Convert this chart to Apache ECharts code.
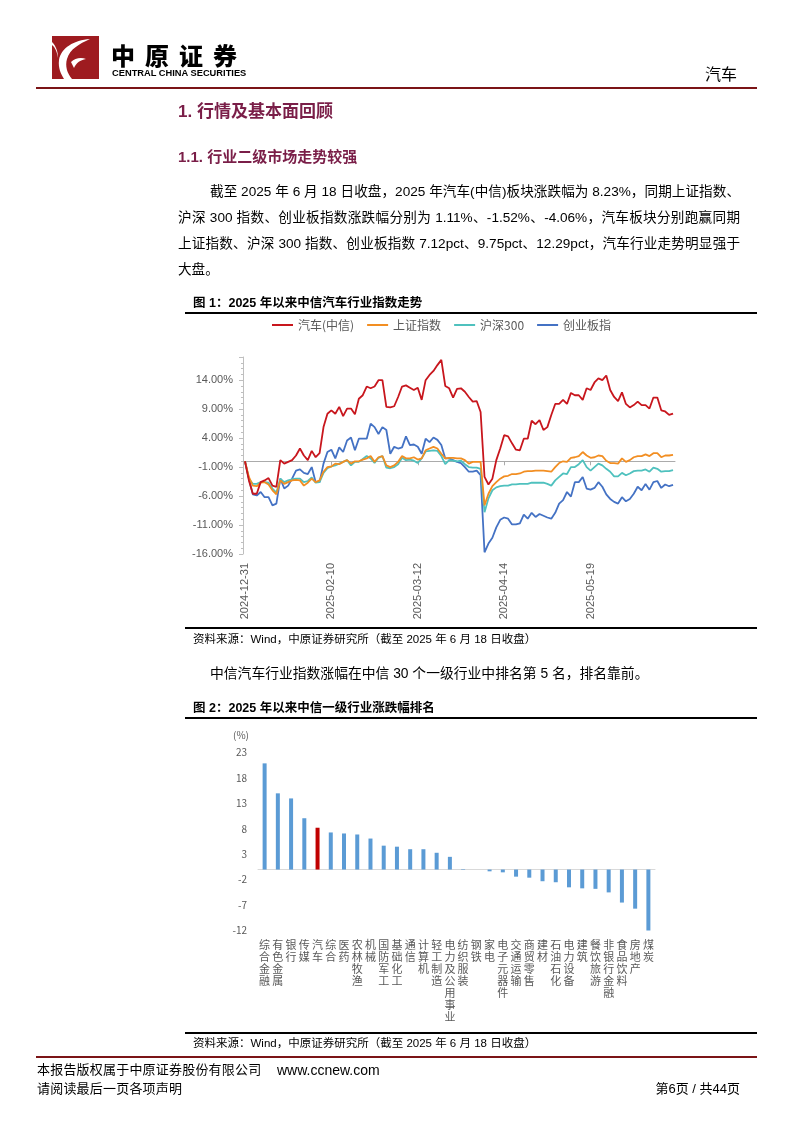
<!DOCTYPE html>
<html><head><meta charset="utf-8">
<script src="https://cdn.jsdelivr.net/npm/echarts@6/dist/echarts.min.js"></script>
<style>
html,body{margin:0;padding:0;background:#fff;}
#page{position:relative;width:794px;height:1123px;overflow:hidden;font-family:"Liberation Sans","Noto Sans CJK SC",sans-serif;color:#000;}
#chart{position:absolute;left:0;top:0;width:794px;height:1123px;}
.t{position:absolute;white-space:nowrap;line-height:1;z-index:2;}
.rule{position:absolute;z-index:2;}
.j{text-align:justify;text-align-last:justify;white-space:nowrap;}
.h{color:#7A1E48;font-weight:bold;}
.fig{font-size:12.5px;font-weight:bold;}
.src{font-size:11.5px;}
</style>
</head>
<body>
<div id="page">
  <div id="chart"></div>
  <svg class="rule" style="left:52px;top:36px" width="47" height="43" viewBox="0 0 47 43">
    <rect width="47" height="43" fill="#9E1B20"/>
    <path d="M38 3 C22 4 9 12 7 24 C6 32 9 38 12 43 L20 43 C15 37 13 30 15 23 C18 13 27 8 38 3 Z" fill="#fff"/>
    <path d="M0 6 C4 10 6 16 6 22 C5 16 3 11 0 9 Z" fill="#fff"/>
    <path d="M19 26 C23 22 29 21 34 23 C28 24 24 27 22 32 Z" fill="#fff"/>
  </svg>
  <div class="t" style="left:111px;top:43px;font-size:24px;font-weight:900;letter-spacing:10px;font-family:'Noto Sans CJK SC';">中原证券</div>
  <div class="t" style="left:112px;top:69px;font-size:9.3px;font-weight:bold;letter-spacing:0px;">CENTRAL CHINA SECURITIES</div>
  <div class="t" style="left:705px;top:65px;font-size:16px;font-family:'Noto Sans CJK SC';">汽车</div>
  <div class="rule" style="left:36px;top:87px;width:721px;height:2px;background:#7B1416;"></div>

  <div class="t h" style="left:178px;top:103px;font-size:17px;">1. 行情及基本面回顾</div>
  <div class="t h" style="left:178px;top:149px;font-size:15px;">1.1. 行业二级市场走势较强</div>

  <div class="t j" style="left:210px;top:185px;width:530px;font-size:13.6px;">截至 2025 年 6 月 18 日收盘，2025 年汽车(中信)板块涨跌幅为 8.23%，同期上证指数、</div>
  <div class="t j" style="left:178px;top:211px;width:562px;font-size:13.6px;">沪深 300 指数、创业板指数涨跌幅分别为 1.11%、-1.52%、-4.06%，汽车板块分别跑赢同期</div>
  <div class="t j" style="left:178px;top:237px;width:562px;font-size:13.6px;">上证指数、沪深 300 指数、创业板指数 7.12pct、9.75pct、12.29pct，汽车行业走势明显强于</div>
  <div class="t" style="left:178px;top:263px;font-size:13.6px;">大盘。</div>

  <div class="t fig" style="left:193px;top:297px;">图 1：2025 年以来中信汽车行业指数走势</div>
  <div class="rule" style="left:185px;top:312px;width:572px;height:2px;background:#000;"></div>
  <div class="rule" style="left:185px;top:627px;width:572px;height:2px;background:#000;"></div>
  <div class="t src" style="left:193px;top:634px;">资料来源：Wind，中原证券研究所（截至 2025 年 6 月 18 日收盘）</div>

  <div class="t" style="left:210px;top:667px;font-size:13.8px;">中信汽车行业指数涨幅在中信 30 个一级行业中排名第 5 名，排名靠前。</div>

  <div class="t fig" style="left:193px;top:702px;">图 2：2025 年以来中信一级行业涨跌幅排名</div>
  <div class="rule" style="left:185px;top:717px;width:572px;height:2px;background:#000;"></div>
  <div class="t" style="left:233px;top:730px;font-size:10px;color:#595959;font-family:'Noto Sans CJK SC';">(%)</div>
  <div class="rule" style="left:185px;top:1032px;width:572px;height:2px;background:#000;"></div>
  <div class="t src" style="left:193px;top:1038px;">资料来源：Wind，中原证券研究所（截至 2025 年 6 月 18 日收盘）</div>

  <div class="rule" style="left:36px;top:1056px;width:721px;height:2px;background:#7B1416;"></div>
  <div class="t" style="left:37px;top:1063px;font-size:13px;letter-spacing:0.2px;">本报告版权属于中原证券股份有限公司</div>
  <div class="t" style="left:277px;top:1063px;font-size:14px;">www.ccnew.com</div>
  <div class="t" style="left:37px;top:1082px;font-size:13px;letter-spacing:0.2px;">请阅读最后一页各项声明</div>
  <div class="t" style="left:640px;top:1082px;width:100px;text-align:right;font-size:13px;">第6页 / 共44页</div>
</div>
<script>
const dates = [
'2024-12-31',
'2025-01-02','2025-01-03','2025-01-06','2025-01-07','2025-01-08','2025-01-09','2025-01-10','2025-01-13','2025-01-14','2025-01-15','2025-01-16','2025-01-17','2025-01-20','2025-01-21','2025-01-22','2025-01-23','2025-01-24','2025-01-27',
'2025-02-05','2025-02-06','2025-02-07','2025-02-10','2025-02-11','2025-02-12','2025-02-13','2025-02-14','2025-02-17','2025-02-18','2025-02-19','2025-02-20','2025-02-21','2025-02-24','2025-02-25','2025-02-26','2025-02-27','2025-02-28',
'2025-03-03','2025-03-04','2025-03-05','2025-03-06','2025-03-07','2025-03-10','2025-03-11','2025-03-12','2025-03-13','2025-03-14','2025-03-17','2025-03-18','2025-03-19','2025-03-20','2025-03-21','2025-03-24','2025-03-25','2025-03-26','2025-03-27','2025-03-28','2025-03-31',
'2025-04-01','2025-04-02','2025-04-03','2025-04-07','2025-04-08','2025-04-09','2025-04-10','2025-04-11','2025-04-14','2025-04-15','2025-04-16','2025-04-17','2025-04-18','2025-04-21','2025-04-22','2025-04-23','2025-04-24','2025-04-25','2025-04-28','2025-04-29','2025-04-30',
'2025-05-06','2025-05-07','2025-05-08','2025-05-09','2025-05-12','2025-05-13','2025-05-14','2025-05-15','2025-05-16','2025-05-19','2025-05-20','2025-05-21','2025-05-22','2025-05-23','2025-05-26','2025-05-27','2025-05-28','2025-05-29','2025-05-30',
'2025-06-03','2025-06-04','2025-06-05','2025-06-06','2025-06-09','2025-06-10','2025-06-11','2025-06-12','2025-06-13','2025-06-16','2025-06-17','2025-06-18'
];
const seriesNames = ['汽车(中信)','上证指数','沪深300','创业板指'];
const autoCiticValues = [
0,-3.3,-5.6,-5.6,-3.6,-3.3,-2.9,-4.2,-4.4,0.2,
-0.4,-0.1,0.2,1.0,2.2,1.0,0.2,1.8,0.7,1.4,
5.9,8.2,8.8,8.2,9.4,7.8,9.1,9.1,8.1,10.8,
11.4,12.9,12.6,12.9,14.0,14.0,9.4,9.3,9.5,11.1,
12.9,13.1,12.7,12.3,12.7,10.6,14.0,14.9,15.6,16.6,
17.5,13.0,12.6,11.0,12.5,12.6,12.0,11.1,10.3,10.4,
8.5,-2.7,-4.0,-3.0,0.2,2.2,4.5,4.3,3.1,2.0,
1.9,3.9,3.9,7.0,6.4,7.1,5.4,5.9,8.0,9.9,
9.9,10.6,9.9,11.8,11.4,11.4,10.6,12.6,12.3,13.6,
14.3,14.0,14.8,12.3,11.1,10.4,11.9,9.9,9.3,9.7,
10.3,9.7,9.7,9.1,11.0,11.0,8.8,8.6,8.0,8.23];
const shanghaiValues = [
0,-2.7,-4.2,-4.3,-3.7,-3.6,-4.0,-5.0,-5.7,-3.3,
-3.9,-3.6,-3.3,-3.2,-3.3,-4.2,-3.7,-3.0,-3.6,-3.3,
-1.8,-1.0,-0.9,-0.4,-0.5,-0.1,0.2,-0.4,0,0,
0.3,0.5,0.9,-0.1,0.7,0.9,-0.7,-1.0,-0.7,-0.1,
0.9,0.5,0.5,0.7,0.3,0.5,1.9,2.2,2.5,2.2,
1.3,0.5,0.6,0.6,0.5,0.5,0.2,-0.4,-0.1,-0.1,
-0.1,-7.6,-5.6,-4.3,-3.6,-3.0,-2.6,-2.5,-2.2,-2.2,
-2.1,-1.8,-1.7,-1.7,-1.6,-1.6,-1.6,-1.7,-1.8,-1.0,
-0.3,0,-0.1,0.6,0.7,0.9,1.6,1.0,0.6,0.7,
1.0,0.9,0.1,-0.3,-0.3,-0.4,0.5,-0.1,0.2,0.7,
0.9,0.9,1.2,0.9,1.4,1.4,0.7,1.0,1.0,1.11];
const hs300Values = [
0,-3.0,-3.9,-3.9,-3.6,-3.6,-3.7,-4.7,-5.4,-3.0,
-3.6,-3.3,-3.1,-3.0,-3.0,-3.6,-3.4,-2.8,-3.7,-3.6,
-2.0,-1.2,-0.9,-0.7,-0.4,-0.1,0.2,-0.7,-0.1,-0.1,
0.4,0.9,0.5,-0.3,0.6,0.9,-1.1,-1.2,-1.0,-0.5,
0.6,0.2,0.3,0.1,-0.3,0.5,1.7,1.8,1.9,1.8,
0.9,-0.5,0.2,0.1,0,0.1,-0.5,-1.0,-1.1,-1.1,
-1.3,-8.8,-6.4,-5.0,-4.5,-4.3,-4.2,-4.2,-4.0,-4.0,
-3.9,-3.9,-3.9,-3.7,-3.7,-3.7,-3.7,-3.9,-4.2,-3.3,
-2.7,-2.1,-2.2,-1.0,-1.0,-0.5,0.2,-1.0,-1.6,-1.0,
-0.4,-0.7,-1.3,-1.8,-2.6,-2.6,-2.0,-2.4,-2.1,-1.7,
-1.6,-1.6,-1.4,-1.8,-1.1,-1.3,-1.8,-1.7,-1.7,-1.52];
const chinextValues = [
0,-3.0,-5.7,-5.9,-5.3,-6.2,-6.2,-7.6,-7.3,-3.0,
-4.7,-4.2,-3.0,-1.6,-1.4,-2.0,-2.2,-1.0,-3.6,-3.6,
-0.4,1.6,2.0,0.5,2.4,1.6,3.6,4.1,1.9,3.9,
3.9,3.9,6.5,5.9,4.7,5.9,5.4,1.3,2.5,2.2,
2.4,4.3,2.8,2.9,2.5,1.3,3.9,3.3,4.1,3.7,
2.8,0.5,0.5,0.2,-0.1,-0.3,-1.0,-1.8,-1.8,-1.6,
-2.4,-15.7,-14.2,-13.2,-11.4,-10.1,-9.7,-9.9,-10.9,-10.9,
-10.7,-9.2,-9.9,-8.9,-9.6,-9.1,-9.4,-9.7,-9.9,-8.9,
-7.3,-6.7,-5.3,-6.1,-3.6,-3.6,-2.7,-4.7,-4.9,-4.6,
-3.6,-4.4,-5.7,-6.5,-7.0,-7.3,-6.2,-6.9,-6.5,-5.6,
-4.4,-5.0,-3.9,-4.9,-3.6,-3.4,-4.6,-4.0,-4.3,-4.06];
const lineColors = ['#C8161D','#F28E22','#4FC1BE','#4472C4'];

const industries = ['综合金融','有色金属','银行','传媒','汽车','综合','医药','农林牧渔','机械','国防军工','基础化工','通信','计算机','轻工制造','电力及公用事业','纺织服装','钢铁','家电','电子元器件','交通运输','商贸零售','建材','石油石化','电力设备','建筑','餐饮旅游','非银行金融','食品饮料','房地产','煤炭'];
const industryChanges = [20.9,15.0,14.0,10.1,8.23,7.3,7.1,6.9,6.1,4.7,4.5,4.0,4.0,3.3,2.5,0.1,0.0,-0.35,-0.55,-1.4,-1.6,-2.3,-2.5,-3.5,-3.7,-3.8,-4.5,-6.5,-7.7,-12.1];
const highlightIndustry = '汽车';

const lineData = [autoCiticValues, shanghaiValues, hs300Values, chinextValues];
const axisGray = '#BFBFBF';
const labelGray = '#595959';

const option = {
  animation: false,
  legend: {
    left: 267, top: 314, icon: 'rect', itemWidth: 21, itemHeight: 2, itemGap: 13,
    textStyle: {fontSize: 12, color: labelGray, fontFamily: 'Noto Sans CJK SC'},
    data: seriesNames
  },
  grid: [
    {left: 243, top: 357, width: 432, height: 197},
    {left: 258, top: 752.7, width: 397, height: 177.8}
  ],
  xAxis: [
    {gridIndex: 0, type: 'category', data: dates, boundaryGap: true, position: 'bottom',
     axisLine: {show: false, onZero: false}, axisTick: {show: false},
     axisLabel: {rotate: 90, interval: 21, fontSize: 11, color: labelGray, margin: 9, fontFamily: 'Liberation Sans'}},
    {gridIndex: 0, type: 'category', data: dates, boundaryGap: true, position: 'bottom',
     axisLine: {show: true, onZero: true, lineStyle: {color: '#ABABAB', width: 1}},
     axisTick: {show: true, interval: 21, alignWithLabel: true, length: 4, lineStyle: {color: '#ABABAB'}},
     axisLabel: {show: false}},
    {gridIndex: 1, type: 'category', data: industries, position: 'bottom',
     axisLine: {show: false, onZero: false}, axisTick: {show: false},
     axisLabel: {interval: 0, fontSize: 11, lineHeight: 12, color: labelGray, margin: 8, fontFamily: 'Noto Sans CJK SC',
       verticalAlign: 'top', formatter: v => v.split('').join('\n')}},
    {gridIndex: 1, type: 'category', data: industries, position: 'bottom',
     axisLine: {show: true, onZero: true, lineStyle: {color: '#D9D9D9', width: 1}},
     axisTick: {show: false}, axisLabel: {show: false}}
  ],
  yAxis: [
    {gridIndex: 0, type: 'value', min: -16, max: 18, interval: 5,
     axisLine: {show: true, lineStyle: {color: axisGray}},
     axisTick: {show: true, length: 4, lineStyle: {color: axisGray}},
     minorTick: {show: true, splitNumber: 5, length: 2, lineStyle: {color: axisGray}},
     splitLine: {show: false},
     axisLabel: {fontSize: 11, color: labelGray, margin: 10, showMaxLabel: false, fontFamily: 'Liberation Sans',
       formatter: v => v.toFixed(2) + '%'}},
    {gridIndex: 1, type: 'value', min: -12, max: 23, interval: 5,
     axisLine: {show: false}, axisTick: {show: false},
     splitLine: {show: false},
     axisLabel: {fontSize: 10, color: labelGray, margin: 11, fontFamily: 'Noto Sans CJK SC'}}
  ],
  series: [
    ...seriesNames.map((n, i) => ({
      name: n, type: 'line', xAxisIndex: 0, yAxisIndex: 0, data: lineData[i],
      showSymbol: false, symbol: 'none', color: lineColors[i],
      lineStyle: {width: 1.8, color: lineColors[i]}, z: 10 - i
    })),
    {type: 'bar', xAxisIndex: 2, yAxisIndex: 1, barWidth: 4,
     data: industryChanges.map((v, i) => ({value: v, itemStyle: {color: industries[i] === highlightIndustry ? '#C00000' : '#5B9BD5'}}))}
  ]
};
const chart = echarts.init(document.getElementById('chart'), null, {renderer: 'canvas', width: 794, height: 1123});
chart.setOption(option);
</script>
</body></html>
